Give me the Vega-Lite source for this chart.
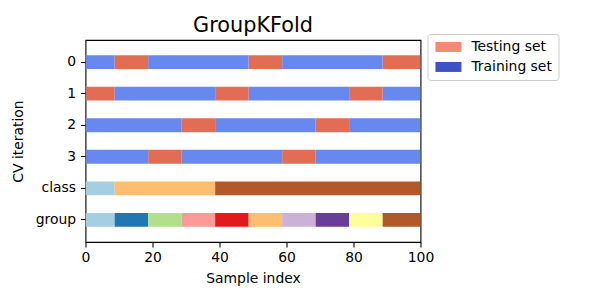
{
  "$schema": "https://vega.github.io/schema/vega-lite/v6.json",
  "autosize": "none",
  "padding": {"left": 85.5, "top": 40, "right": 179.5, "bottom": 58},
  "width": 335,
  "height": 202,
  "title": {"text": "GroupKFold", "fontSize": 20.8, "fontWeight": "normal", "font": "DejaVu Sans", "anchor": "middle", "frame": "group", "baseline": "alphabetic", "offset": 8, "dy": 27, "color": "black"},
  "config": {
    "font": "DejaVu Sans",
    "view": {"stroke": "black", "strokeWidth": 1.1},
    "axis": {"domain": false, "grid": false, "tickColor": "black", "tickWidth": 1.1, "tickSize": 4.9, "labelFontSize": 13.9, "labelColor": "black", "titleFontSize": 13.9, "titleFontWeight": "normal", "titleColor": "black", "labelFont": "DejaVu Sans", "titleFont": "DejaVu Sans", "labelFlush": false}
  },
  "datasets": {
    "segments": [
      {"row": "0", "start": 0, "end": 8.7, "kind": "train"},
      {"row": "0", "start": 8.7, "end": 18.7, "kind": "test"},
      {"row": "0", "start": 18.7, "end": 48.7, "kind": "train"},
      {"row": "0", "start": 48.7, "end": 58.7, "kind": "test"},
      {"row": "0", "start": 58.7, "end": 88.7, "kind": "train"},
      {"row": "0", "start": 88.7, "end": 100, "kind": "test"},
      {"row": "1", "start": 0, "end": 8.7, "kind": "test"},
      {"row": "1", "start": 8.7, "end": 38.7, "kind": "train"},
      {"row": "1", "start": 38.7, "end": 48.7, "kind": "test"},
      {"row": "1", "start": 48.7, "end": 78.7, "kind": "train"},
      {"row": "1", "start": 78.7, "end": 88.7, "kind": "test"},
      {"row": "1", "start": 88.7, "end": 100, "kind": "train"},
      {"row": "2", "start": 0, "end": 28.7, "kind": "train"},
      {"row": "2", "start": 28.7, "end": 38.7, "kind": "test"},
      {"row": "2", "start": 38.7, "end": 68.7, "kind": "train"},
      {"row": "2", "start": 68.7, "end": 78.7, "kind": "test"},
      {"row": "2", "start": 78.7, "end": 100, "kind": "train"},
      {"row": "3", "start": 0, "end": 18.7, "kind": "train"},
      {"row": "3", "start": 18.7, "end": 28.7, "kind": "test"},
      {"row": "3", "start": 28.7, "end": 58.7, "kind": "train"},
      {"row": "3", "start": 58.7, "end": 68.7, "kind": "test"},
      {"row": "3", "start": 68.7, "end": 100, "kind": "train"},
      {"row": "class", "start": 0, "end": 8.7, "kind": "c0"},
      {"row": "class", "start": 8.7, "end": 38.7, "kind": "c1"},
      {"row": "class", "start": 38.7, "end": 100, "kind": "c2"},
      {"row": "group", "start": 0, "end": 8.7, "kind": "g0"},
      {"row": "group", "start": 8.7, "end": 18.7, "kind": "g1"},
      {"row": "group", "start": 18.7, "end": 28.7, "kind": "g2"},
      {"row": "group", "start": 28.7, "end": 38.7, "kind": "g3"},
      {"row": "group", "start": 38.7, "end": 48.7, "kind": "g4"},
      {"row": "group", "start": 48.7, "end": 58.7, "kind": "g5"},
      {"row": "group", "start": 58.7, "end": 68.7, "kind": "g6"},
      {"row": "group", "start": 68.7, "end": 78.7, "kind": "g7"},
      {"row": "group", "start": 78.7, "end": 88.7, "kind": "g8"},
      {"row": "group", "start": 88.7, "end": 100, "kind": "g9"}
    ],
    "legendItems": [
      {"label": "Testing set"},
      {"label": "Training set"}
    ]
  },
  "layer": [
    {
      "data": {"name": "segments"},
      "mark": {"type": "bar", "height": {"band": 0.44}, "clip": true},
      "encoding": {
        "x": {"field": "start", "type": "quantitative", "scale": {"domain": [0, 100], "nice": false, "zero": false},
              "axis": {"values": [0, 20, 40, 60, 80, 100], "title": "Sample index", "labelPadding": 4, "titlePadding": 7}},
        "x2": {"field": "end"},
        "y": {"field": "row", "type": "nominal", "scale": {"domain": ["0", "1", "2", "3", "class", "group"], "paddingInner": 0, "paddingOuter": 0.2},
              "axis": {"title": "CV iteration", "labelPadding": 5, "titlePadding": 10}},
        "color": {"field": "kind", "type": "nominal", "legend": null,
                  "scale": {"domain": ["train", "test", "c0", "c1", "c2", "g0", "g1", "g2", "g3", "g4", "g5", "g6", "g7", "g8", "g9"],
                            "range": ["#6788ee", "#e36c55", "#a6cee3", "#fdbf6f", "#b15928", "#a6cee3", "#1f78b4", "#b2df8a", "#fb9a99", "#e31a1c", "#fdbf6f", "#cab2d6", "#6a3d9a", "#ffff99", "#b15928"]}}
      }
    },
    {
      "data": {"name": "legendItems"},
      "mark": {"type": "point", "filled": true, "opacity": 0},
      "encoding": {
        "color": {"field": "label", "type": "nominal",
                  "scale": {"domain": ["Testing set", "Training set"], "range": ["#f08a70", "#3e51c5"]},
                  "legend": {"title": null, "orient": "none", "legendX": 342, "legendY": -6,
                             "symbolType": "M-1,-1H4.2V1H-1Z", "symbolSize": 100, "symbolOpacity": 1, "symbolStrokeWidth": 0,
                             "labelFontSize": 13.9, "labelColor": "black", "labelOffset": 24, "rowPadding": 5,
                             "padding": 6, "strokeColor": "#cccccc", "fillColor": "white", "cornerRadius": 3}}
      }
    }
  ],
  "resolve": {"scale": {"color": "independent"}}
}
